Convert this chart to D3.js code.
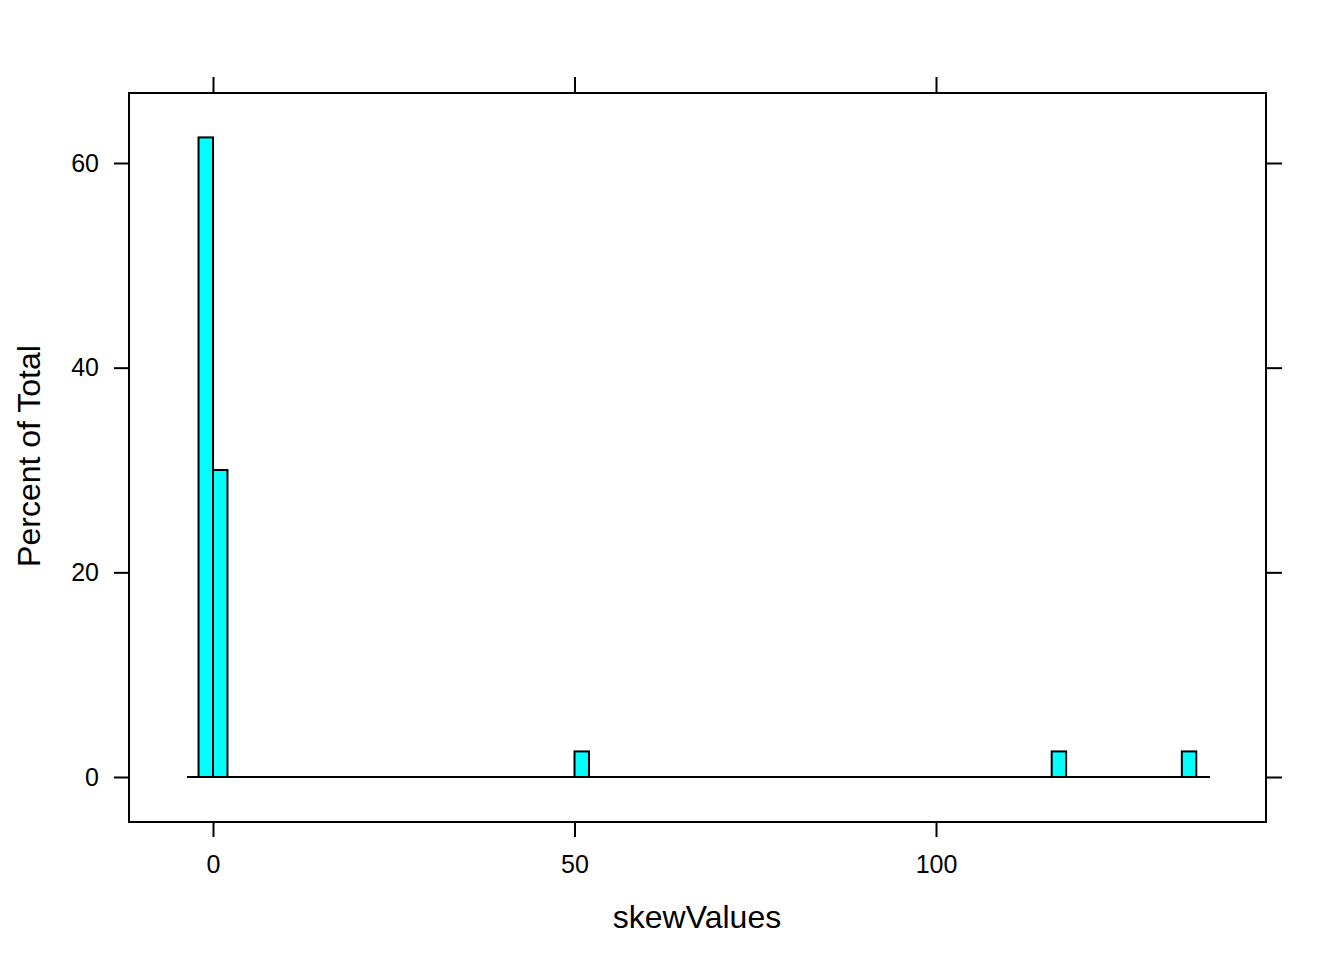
<!DOCTYPE html>
<html>
<head>
<meta charset="utf-8">
<script src="https://cdn.jsdelivr.net/npm/d3@7"></script>
<style>
  body { margin: 0; background: #fff; }
  text { font-family: "Liberation Sans", Arial, sans-serif; fill: #000; }
</style>
</head>
<body>
<div id="plot"></div>
<script>
// histogram bins of skewValues (percent of total)
const binLo = [-2, 0, 50, 116, 134];
const binHi = [0, 2, 52, 118, 136];
const percents = [62.5, 30, 2.5, 2.5, 2.5];
const xTicks = [0, 50, 100];
const yTicks = [0, 20, 40, 60];
const baseRange = [-3.6, 137.9];

const bins = binLo.map((lo, i) => ({lo: lo, hi: binHi[i], pct: percents[i]}));

const svg = d3.select("#plot")
  .append("svg")
  .attr("width", 1344)
  .attr("height", 960);

// panel box edges
const pLeft = 129, pRight = 1266, pTop = 93, pBottom = 822;

const xScale = d3.scaleLinear().domain([0, 100]).range([213, 936]);
const yScale = d3.scaleLinear().domain([0, 60]).range([777, 163]);

// bars
svg.selectAll("rect.bar")
  .data(bins)
  .enter()
  .append("rect")
  .attr("class", "bar")
  .attr("x", d => xScale(d.lo))
  .attr("y", d => yScale(d.pct))
  .attr("width", d => xScale(d.hi) - xScale(d.lo))
  .attr("height", d => yScale(0) - yScale(d.pct))
  .attr("fill", "#00FFFF")
  .attr("stroke", "#000")
  .attr("stroke-width", 2);

// baseline
svg.append("line")
  .attr("x1", xScale(baseRange[0]))
  .attr("x2", xScale(baseRange[1]))
  .attr("y1", yScale(0))
  .attr("y2", yScale(0))
  .attr("stroke", "#000")
  .attr("stroke-width", 2);

// panel border
svg.append("rect")
  .attr("x", pLeft)
  .attr("y", pTop)
  .attr("width", pRight - pLeft)
  .attr("height", pBottom - pTop)
  .attr("fill", "none")
  .attr("stroke", "#000")
  .attr("stroke-width", 2);

function styleAxis(g) {
  g.select(".domain").remove();
  g.selectAll(".tick line").attr("stroke", "#000").attr("stroke-width", 2);
  g.selectAll(".tick text").attr("font-size", 25).attr("fill", "#000")
    .attr("font-family", "Liberation Sans, Arial, sans-serif");
}

svg.append("g")
  .attr("transform", `translate(0, ${pBottom})`)
  .call(d3.axisBottom(xScale).tickValues(xTicks).tickSize(15).tickPadding(18))
  .call(styleAxis);

svg.append("g")
  .attr("transform", `translate(0, ${pTop})`)
  .call(d3.axisTop(xScale).tickValues(xTicks).tickSize(16).tickFormat(""))
  .call(styleAxis);

svg.append("g")
  .attr("transform", `translate(${pLeft}, 0)`)
  .call(d3.axisLeft(yScale).tickValues(yTicks).tickSize(15).tickPadding(15))
  .call(styleAxis);

svg.append("g")
  .attr("transform", `translate(${pRight}, 0)`)
  .call(d3.axisRight(yScale).tickValues(yTicks).tickSize(16).tickFormat(""))
  .call(styleAxis);

// axis titles
svg.append("text")
  .attr("x", 697)
  .attr("y", 928)
  .attr("text-anchor", "middle")
  .attr("font-size", 32)
  .text("skewValues");

svg.append("text")
  .attr("transform", `translate(40, 456) rotate(-90)`)
  .attr("text-anchor", "middle")
  .attr("font-size", 32)
  .text("Percent of Total");
</script>
</body>
</html>
